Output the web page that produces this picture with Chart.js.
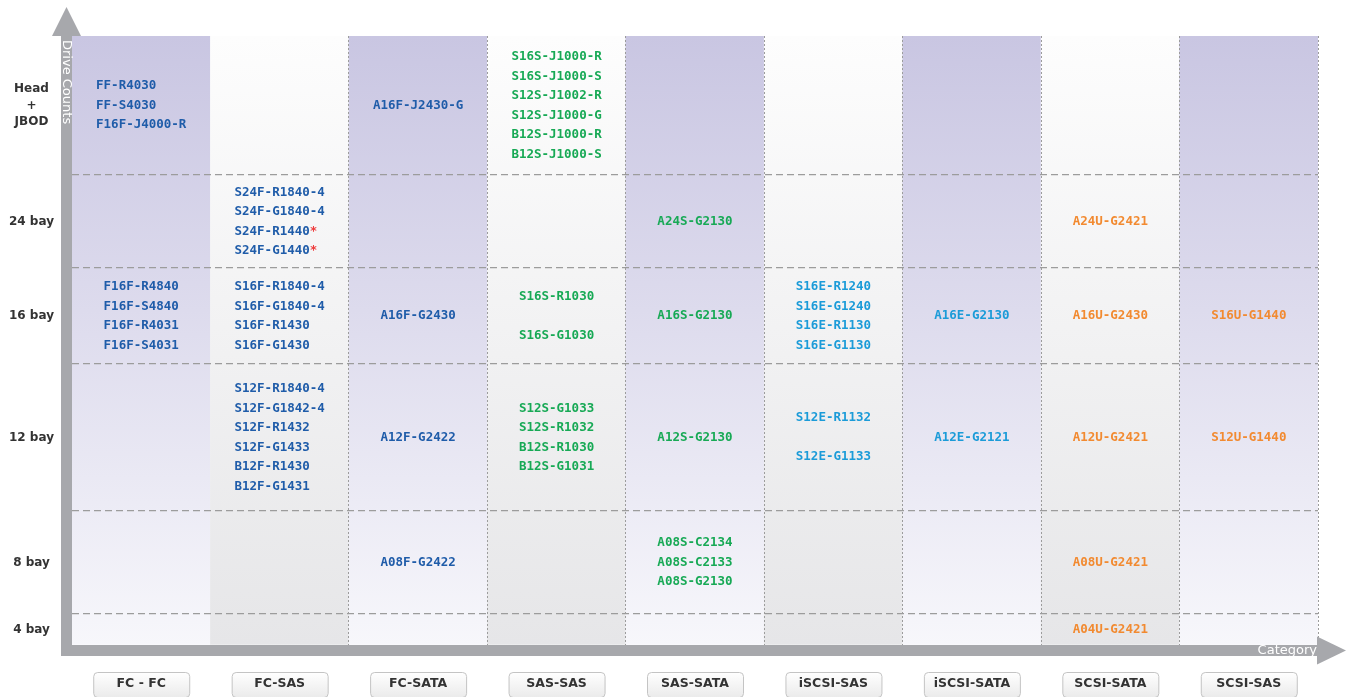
<!DOCTYPE html>
<html><head><meta charset="utf-8">
<script src="https://cdn.jsdelivr.net/npm/chart.js@4.4.1/dist/chart.umd.min.js"></script>
<style>html,body{margin:0;padding:0;background:#fff;} #wrap{width:1346px;height:697px;position:relative;}</style>
</head><body><div id="wrap"><canvas id="c"></canvas></div>
<script>
// ---- data ----
const categories = ['FC - FC','FC-SAS','FC-SATA','SAS-SAS','SAS-SATA','iSCSI-SAS','iSCSI-SATA','SCSI-SATA','SCSI-SAS'];
// rows bottom -> top
const rowLabels = ['4 bay','8 bay','12 bay','16 bay','24 bay',['Head','+','JBOD']];
const rowEdges = [0, 31, 134, 281, 377, 470, 609];

// model names per row (4 bay, 8 bay, 12 bay, 16 bay, 24 bay, Head+JBOD)
const fcFc = [[], [], [], ['F16F-R4840','F16F-S4840','F16F-R4031','F16F-S4031'], [], ['FF-R4030','FF-S4030','F16F-J4000-R']];
const fcSas = [[], [], ['S12F-R1840-4','S12F-G1842-4','S12F-R1432','S12F-G1433','B12F-R1430','B12F-G1431'], ['S16F-R1840-4','S16F-G1840-4','S16F-R1430','S16F-G1430'], ['S24F-R1840-4','S24F-G1840-4','S24F-R1440*','S24F-G1440*'], []];
const fcSata = [[], ['A08F-G2422'], ['A12F-G2422'], ['A16F-G2430'], [], ['A16F-J2430-G']];
const sasSas = [[], [], ['S12S-G1033','S12S-R1032','B12S-R1030','B12S-G1031'], ['S16S-R1030','','S16S-G1030'], [], ['S16S-J1000-R','S16S-J1000-S','S12S-J1002-R','S12S-J1000-G','B12S-J1000-R','B12S-J1000-S']];
const sasSata = [[], ['A08S-C2134','A08S-C2133','A08S-G2130'], ['A12S-G2130'], ['A16S-G2130'], ['A24S-G2130'], []];
const iscsiSas = [[], [], ['S12E-R1132','','S12E-G1133'], ['S16E-R1240','S16E-G1240','S16E-R1130','S16E-G1130'], [], []];
const iscsiSata = [[], [], ['A12E-G2121'], ['A16E-G2130'], [], []];
const scsiSata = [['A04U-G2421'], ['A08U-G2421'], ['A12U-G2421'], ['A16U-G2430'], ['A24U-G2421'], []];
const scsiSas = [[], [], ['S12U-G1440'], ['S16U-G1440'], [], []];
const columns = [fcFc, fcSas, fcSata, sasSas, sasSata, iscsiSas, iscsiSata, scsiSata, scsiSas];

// ---- style ----
const familyColors = {FC: '#1f5ca9', SAS: '#17a955', iSCSI: '#1b9bd8', SCSI: '#f28a30'};
const LINE = 19.5;
const AXIS_GRAY = '#a7a8ac';
const rowCenters = rowLabels.map((_, i) => (rowEdges[i] + rowEdges[i + 1]) / 2);

function colGradient(chart, purple) {
  const {ctx, chartArea} = chart;
  const g = ctx.createLinearGradient(0, chartArea.top, 0, chartArea.bottom);
  if (purple) { g.addColorStop(0, '#c9c6e2'); g.addColorStop(0.45, '#dddbed'); g.addColorStop(1, '#f7f7fb'); }
  else { g.addColorStop(0, '#fdfdfd'); g.addColorStop(1, '#e6e6e8'); }
  return g;
}

function roundRectPath(ctx, x, y, w, h, r) {
  ctx.beginPath();
  ctx.moveTo(x + r, y); ctx.lineTo(x + w - r, y); ctx.quadraticCurveTo(x + w, y, x + w, y + r);
  ctx.lineTo(x + w, y + h - r); ctx.quadraticCurveTo(x + w, y + h, x + w - r, y + h);
  ctx.lineTo(x + r, y + h); ctx.quadraticCurveTo(x, y + h, x, y + h - r);
  ctx.lineTo(x, y + r); ctx.quadraticCurveTo(x, y, x + r, y); ctx.closePath();
}

const boxPlugin = {
  id: 'labelBoxes',
  beforeDraw(chart) {
    const xs = chart.scales.x, ctx = chart.ctx;
    ctx.save();
    categories.forEach((c, i) => {
      const cx = xs.getPixelForValue(i);
      const w = 96, h = 25, top = xs.top + 27;
      const g = ctx.createLinearGradient(0, top, 0, top + h);
      g.addColorStop(0, '#ffffff'); g.addColorStop(1, '#ebebeb');
      roundRectPath(ctx, cx - w / 2 + 0.5, top + 0.5, w, h, 4);
      ctx.fillStyle = g; ctx.fill();
      ctx.strokeStyle = '#c4c4c4'; ctx.lineWidth = 1; ctx.stroke();
    });
    ctx.restore();
  }
};

const axisPlugin = {
  id: 'axisArrows',
  afterDraw(chart) {
    const ctx = chart.ctx, ca = chart.chartArea;
    ctx.save();
    ctx.fillStyle = AXIS_GRAY;
    ctx.fillRect(ca.left - 11, ca.top, 11, ca.bottom + 11 - ca.top);
    ctx.fillRect(ca.left - 11, ca.bottom, ca.right - ca.left + 11, 11);
    ctx.beginPath();
    ctx.moveTo(ca.left - 20, ca.top); ctx.lineTo(ca.left + 9, ca.top); ctx.lineTo(ca.left - 5.5, ca.top - 29);
    ctx.closePath(); ctx.fill();
    ctx.beginPath();
    ctx.moveTo(ca.right - 1, ca.bottom - 8.5); ctx.lineTo(ca.right - 1, ca.bottom + 19.5); ctx.lineTo(chart.width, ca.bottom + 5.5);
    ctx.closePath(); ctx.fill();
    ctx.fillStyle = '#ffffff';
    ctx.font = '13px "DejaVu Sans"';
    ctx.textBaseline = 'middle';
    ctx.save();
    ctx.translate(ca.left - 5.5, ca.top + 4);
    ctx.rotate(Math.PI / 2);
    ctx.textAlign = 'left';
    ctx.fillText('Drive Counts', 0, 0);
    ctx.restore();
    ctx.textAlign = 'right';
    ctx.fillText('Category', ca.right - 1, ca.bottom + 6);
    ctx.restore();
  }
};

const textPlugin = {
  id: 'cellText',
  afterDraw(chart) {
    const ctx = chart.ctx, xs = chart.scales.x, ys = chart.scales.y;
    ctx.save();
    ctx.font = 'bold 12.5px "DejaVu Sans Mono"';
    ctx.textBaseline = 'middle';
    ctx.textAlign = 'left';
    columns.forEach((col, ci) => {
      const color = familyColors[categories[ci].split('-')[0].trim()];
      const cx = xs.getPixelForValue(ci);
      col.forEach((lines, ri) => {
        if (!lines.length) return;
        const cy = ys.getPixelForValue(rowCenters[ri]);
        const w = Math.max(...lines.map(l => ctx.measureText(l).width));
        const left = cx - w / 2;
        lines.forEach((l, li) => {
          const y = cy + (li - (lines.length - 1) / 2) * LINE;
          if (l.endsWith('*')) {
            const base = l.slice(0, -1);
            ctx.fillStyle = color; ctx.fillText(base, left, y);
            ctx.fillStyle = '#ee3d3d'; ctx.fillText('*', left + ctx.measureText(base).width, y);
          } else {
            ctx.fillStyle = color; ctx.fillText(l, left, y);
          }
        });
      });
    });
    ctx.restore();
  }
};

const yTickValues = [...rowEdges, ...rowCenters].sort((a, b) => a - b);

new Chart(document.getElementById('c'), {
  type: 'bar',
  data: {
    labels: categories,
    datasets: [{
      data: categories.map(() => [rowEdges[0], rowEdges[rowEdges.length - 1]]),
      backgroundColor: (c) => {
        if (!c.chart.chartArea) return 'rgba(0,0,0,0)';
        return colGradient(c.chart, c.dataIndex % 2 === 0);
      },
      borderWidth: 0,
      borderSkipped: false,
      barPercentage: 1,
      categoryPercentage: 1
    }]
  },
  options: {
    responsive: true,
    maintainAspectRatio: false,
    animation: false,
    events: [],
    layout: {padding: {top: 36, right: 28, left: 0, bottom: 0}},
    plugins: {legend: {display: false}, tooltip: {enabled: false}},
    scales: {
      x: {
        type: 'category',
        offset: true,
        grid: {
          offset: true, drawTicks: false, z: 1, lineWidth: 1,
          color: (c) => (c.index === 0 || c.index === 1) ? 'rgba(0,0,0,0)' : '#9c9c9c'
        },
        border: {display: false, dash: [2, 2]},
        ticks: {
          font: {family: 'DejaVu Sans', weight: 'bold', size: 12.5},
          color: '#333333', padding: 31, maxRotation: 0, autoSkip: false
        },
        afterFit: (s) => { s.height = 52; }
      },
      y: {
        type: 'linear',
        min: rowEdges[0],
        max: rowEdges[rowEdges.length - 1],
        afterBuildTicks: (s) => { s.ticks = yTickValues.map(v => ({value: v})); },
        grid: {
          drawTicks: false, z: 1, lineWidth: 1.2,
          color: (c) => {
            const v = c.tick ? c.tick.value : null;
            return (rowEdges.includes(v) && v !== rowEdges[0] && v !== rowEdges[rowEdges.length - 1]) ? '#9c9c9c' : 'rgba(0,0,0,0)';
          }
        },
        border: {display: false, dash: [7, 4]},
        ticks: {
          autoSkip: false, crossAlign: 'center', padding: 18,
          font: {family: 'DejaVu Sans', weight: 'bold', size: 12, lineHeight: 1.4},
          color: '#333333',
          callback: (v) => { const i = rowCenters.indexOf(v); return i >= 0 ? rowLabels[i] : ''; }
        },
        afterFit: (s) => { s.width = 72; }
      }
    }
  },
  plugins: [boxPlugin, axisPlugin, textPlugin]
});
</script>
</body></html>
